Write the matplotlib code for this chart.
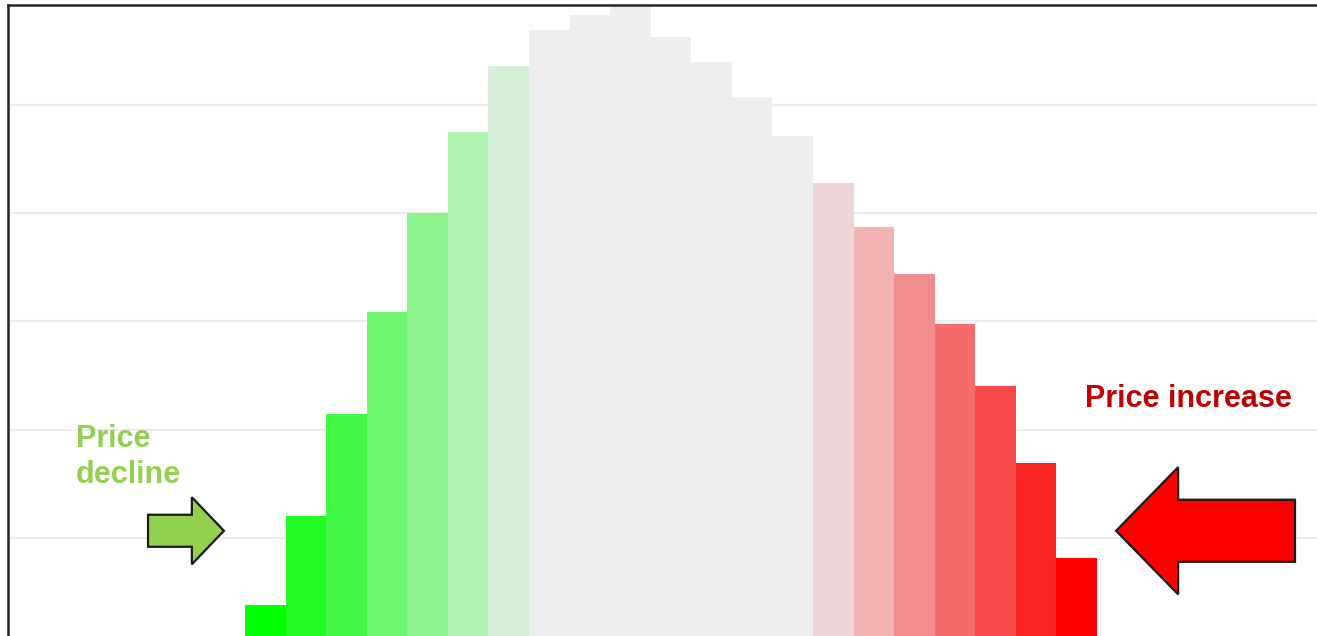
import matplotlib
matplotlib.use("Agg")
import matplotlib.pyplot as plt
from matplotlib.patches import FancyArrow

# Distribution of price changes: share of items per change bucket
buckets = list(range(21))
shares = [0.38, 1.20, 2.14, 3.09, 4.00, 4.75, 5.36, 5.69, 5.83, 5.92, 5.63,
          5.40, 5.07, 4.71, 4.28, 3.87, 3.44, 2.98, 2.40, 1.69, 0.81]
bar_colors = ["#00ff00", "#22fc22", "#44f944", "#6ef76e", "#8ff48f", "#b1f3b1",
              "#d6efd6", "#eeeeee", "#eeeeee", "#eeeeee", "#eeeeee", "#eeeeee",
              "#eeeeee", "#eeeeee", "#efd5d7", "#f2b3b3", "#f08c8c", "#f46c6c",
              "#f84a4a", "#fb2424", "#ff0000"]
grid_levels = [1, 2, 3, 4, 5]

W, H = 1317, 636
fig = plt.figure(figsize=(W / 100, H / 100), dpi=100)
fig.patch.set_facecolor("white")

# axes frame in pixel terms (baseline sits just below the visible canvas)
left_px, right_px, top_px, base_px = 8, 1322, 5, 646
ax = fig.add_axes([left_px / W, (H - base_px) / H,
                   (right_px - left_px) / W, (base_px - top_px) / H])

bar_w_px = (1097 - 245) / 21
x0 = -0.5 - (245 - left_px) / bar_w_px
x1 = -0.5 + (right_px - 245) / bar_w_px
unit_px = 108.2
ax.set_xlim(x0, x1)
ax.set_ylim(0, (base_px - top_px) / unit_px)

for lvl in grid_levels:
    ax.axhline(lvl, color="#ebebeb", lw=1.6, zorder=0)

ax.bar(buckets, shares, width=1.0, color=bar_colors, linewidth=0, zorder=2)

for side in ("right", "bottom"):
    ax.spines[side].set_visible(False)
for side in ("left", "top"):
    ax.spines[side].set_color("#262626")
    ax.spines[side].set_linewidth(1.8)
ax.set_xticks([])
ax.set_yticks([])

# direction arrows
ax.add_patch(FancyArrow(-2.89, 1.065, 1.87, 0, width=0.296, head_width=0.62,
                        head_length=0.79, length_includes_head=True,
                        facecolor="#92d050", edgecolor="#1a1a1a", lw=1.6,
                        zorder=3, clip_on=False))
ax.add_patch(FancyArrow(25.38, 1.065, -4.41, 0, width=0.574, head_width=1.176,
                        head_length=1.53, length_includes_head=True,
                        facecolor="#ff0000", edgecolor="#1a1a1a", lw=1.6,
                        zorder=3, clip_on=False))

font = dict(family=["Liberation Sans", "DejaVu Sans"], fontweight="bold", fontsize=22)
ax.text(-4.67, 1.84, "Price", color="#92d050", va="baseline", ha="left", **font)
ax.text(-4.67, 1.51, "decline", color="#92d050", va="baseline", ha="left", **font)
ax.text(20.2, 2.21, "Price increase", color="#c00000", va="baseline", ha="left", **font)

fig.savefig("out.png", dpi=100, facecolor="white")
